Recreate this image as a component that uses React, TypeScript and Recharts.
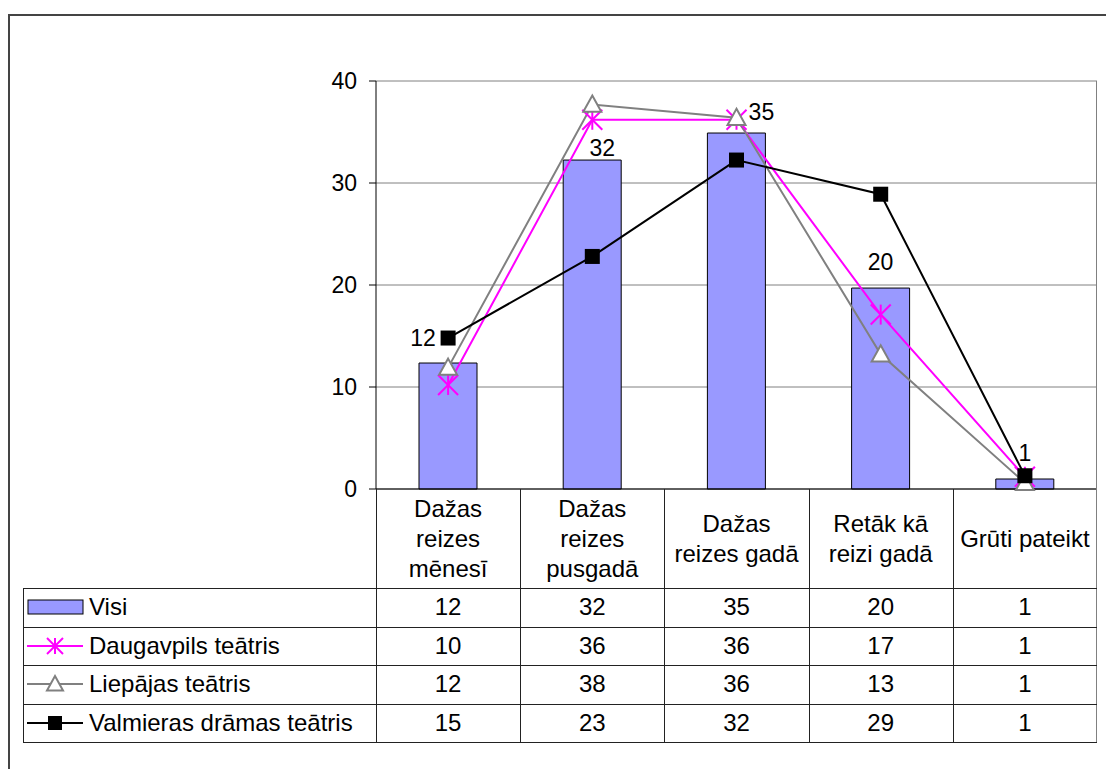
import {
  Bar,
  CartesianGrid,
  ComposedChart,
  LabelList,
  Line,
  XAxis,
  YAxis,
} from "recharts";

const categories = [
  "Dažas\nreizes\nmēnesī",
  "Dažas\nreizes\npusgadā",
  "Dažas\nreizes gadā",
  "Retāk kā\nreizi gadā",
  "Grūti pateikt",
];
const visi = [12.35, 32.25, 34.9, 19.7, 0.98];
const daugavpils = [10.2, 36.2, 36.2, 17.1, 1.2];
const liepaja = [11.9, 37.7, 36.4, 13.2, 0.6];
const valmiera = [14.8, 22.8, 32.25, 28.9, 1.3];
const seriesNames = [
  "Visi",
  "Daugavpils teātris",
  "Liepājas teātris",
  "Valmieras drāmas teātris",
];
const yTicks = [0, 10, 20, 30, 40];

const data = categories.map((category, i) => ({
  category,
  visi: visi[i],
  daugavpils: daugavpils[i],
  liepaja: liepaja[i],
  valmiera: valmiera[i],
}));

const FONT = '"Liberation Sans", Arial, sans-serif';
const W = 1106;
const H = 769;
const PLOT = { left: 376, top: 81, right: 1097, bottom: 489 };
const HEADER_BOTTOM = 588;
const ROW_H = 38.5;
const LEGEND_LEFT = 23;
const LINE_COLOR = "#222";
const TABLE_FONT = 24;

// hand-placed data labels (dx, dy) like in the original
const LABEL_NUDGE = [
  [-25, 1],
  [10, 14],
  [25, 5],
  [0, 0],
  [0, 0],
];

function StarDot({ cx, cy, size = 10 }: any) {
  if (cx == null || cy == null) return null;
  const s = size;
  return (
    <g stroke="#FF00FF" strokeWidth={2}>
      <line x1={cx - s} y1={cy - s} x2={cx + s} y2={cy + s} />
      <line x1={cx - s} y1={cy + s} x2={cx + s} y2={cy - s} />
      <line x1={cx} y1={cy - s} x2={cx} y2={cy + s} />
    </g>
  );
}

function TriangleDot({ cx, cy, size = 9 }: any) {
  if (cx == null || cy == null) return null;
  const s = size;
  return (
    <polygon
      points={`${cx},${cy - s} ${cx + s},${cy + s * 0.8} ${cx - s},${cy + s * 0.8}`}
      fill="#fff"
      stroke="#808080"
      strokeWidth={2}
    />
  );
}

function SquareDot({ cx, cy, size = 7.5 }: any) {
  if (cx == null || cy == null) return null;
  return (
    <rect x={cx - size} y={cy - size} width={size * 2} height={size * 2} fill="#000" />
  );
}

function CategoryTick({ x, y, payload }: any) {
  const lines = String(payload.value).split("\n");
  const mid = y + (HEADER_BOTTOM - PLOT.bottom) / 2;
  const step = 30;
  const start = mid - ((lines.length - 1) * step) / 2;
  return (
    <g>
      {lines.map((line, i) => (
        <text
          key={i}
          x={x}
          y={start + i * step}
          textAnchor="middle"
          dominantBaseline="central"
          fontSize={TABLE_FONT}
          fontFamily={FONT}
          fill="#000"
        >
          {line}
        </text>
      ))}
    </g>
  );
}

function BarLabel({ x, y, width, value, index }: any) {
  const [dx, dy] = LABEL_NUDGE[index] || [0, 0];
  return (
    <text
      x={x + width / 2 + dx}
      y={y - 26 + dy}
      textAnchor="middle"
      dominantBaseline="central"
      fontSize={23}
      fontFamily={FONT}
      fill="#000"
    >
      {Math.round(Number(value))}
    </text>
  );
}

function LegendKey({ kind }: { kind: number }) {
  return (
    <svg width={60} height={20} style={{ display: "block" }}>
      {kind === 0 ? (
        <rect x={1} y={3} width={55} height={14} fill="#9999FF" stroke="#000" />
      ) : (
        <>
          <line
            x1={0}
            y1={10}
            x2={56}
            y2={10}
            stroke={kind === 1 ? "#FF00FF" : kind === 2 ? "#808080" : "#000"}
            strokeWidth={2}
          />
          {kind === 1 && <StarDot cx={28} cy={10} size={8} />}
          {kind === 2 && <TriangleDot cx={28} cy={10} size={8} />}
          {kind === 3 && <SquareDot cx={28} cy={10} size={7} />}
        </>
      )}
    </svg>
  );
}

export default function App() {
  const band = (PLOT.right - PLOT.left) / categories.length;
  const edges = categories.map((_, i) => PLOT.left + band * i).concat(PLOT.right);
  const rows = [visi, daugavpils, liepaja, valmiera];

  return (
    <div style={{ position: "relative", width: W, height: H, fontFamily: FONT, background: "#fff" }}>
      <style>{`body{margin:0;overflow:hidden}`}</style>

      {/* outer frame */}
      <div
        style={{
          position: "absolute",
          left: 8,
          top: 14,
          width: W - 8,
          height: H - 14,
          borderTop: "2px solid #444",
          borderLeft: "2px solid #444",
        }}
      />

      <div style={{ position: "absolute", left: 0, top: 0 }}>
        <ComposedChart
          width={W}
          height={H}
          data={data}
          margin={{ top: PLOT.top, right: W - PLOT.right, bottom: H - HEADER_BOTTOM, left: 0 }}
        >
          <CartesianGrid horizontal vertical={false} stroke="#808080" />
          <XAxis
            dataKey="category"
            interval={0}
            height={HEADER_BOTTOM - PLOT.bottom}
            axisLine={{ stroke: "#000" }}
            tickLine={false}
            tickSize={0}
            tickMargin={0}
            tick={<CategoryTick />}
          />
          <YAxis
            width={PLOT.left}
            domain={[0, 40]}
            ticks={yTicks}
            interval={0}
            axisLine={{ stroke: "#000" }}
            tickLine={{ stroke: "#000" }}
            tickSize={7}
            tickMargin={12}
            tick={{ fontSize: 23, fill: "#000", fontFamily: FONT }}
          />
          <Bar
            dataKey="visi"
            fill="#9999FF"
            stroke="#000"
            strokeWidth={1}
            barSize={58}
            isAnimationActive={false}
          >
            <LabelList dataKey="visi" content={<BarLabel />} />
          </Bar>
          <Line
            dataKey="daugavpils"
            stroke="#FF00FF"
            strokeWidth={2}
            dot={(p: any) => <StarDot key={p.index} cx={p.cx} cy={p.cy} />}
            isAnimationActive={false}
          />
          <Line
            dataKey="liepaja"
            stroke="#808080"
            strokeWidth={2}
            dot={(p: any) => <TriangleDot key={p.index} cx={p.cx} cy={p.cy} />}
            isAnimationActive={false}
          />
          <Line
            dataKey="valmiera"
            stroke="#000"
            strokeWidth={2}
            dot={(p: any) => <SquareDot key={p.index} cx={p.cx} cy={p.cy} />}
            isAnimationActive={false}
          />
        </ComposedChart>
      </div>

      {/* plot area right border */}
      <div
        style={{
          position: "absolute",
          left: PLOT.right - 1,
          top: PLOT.top,
          width: 1,
          height: PLOT.bottom - PLOT.top,
          background: "#808080",
        }}
      />

      {/* data table grid: vertical lines */}
      {edges.map((x, i) => (
        <div
          key={"v" + i}
          style={{
            position: "absolute",
            left: Math.round(x) - (i === edges.length - 1 ? 1 : 0),
            top: PLOT.bottom,
            width: 1,
            height: HEADER_BOTTOM + ROW_H * 4 - PLOT.bottom,
            background: i === edges.length - 1 ? "#808080" : LINE_COLOR,
          }}
        />
      ))}
      <div
        style={{
          position: "absolute",
          left: LEGEND_LEFT,
          top: HEADER_BOTTOM,
          width: 1,
          height: ROW_H * 4,
          background: LINE_COLOR,
        }}
      />
      {[0, 1, 2, 3, 4].map((r) => (
        <div
          key={"h" + r}
          style={{
            position: "absolute",
            left: LEGEND_LEFT,
            top: Math.round(HEADER_BOTTOM + ROW_H * r),
            width: PLOT.right - LEGEND_LEFT,
            height: 1,
            background: LINE_COLOR,
          }}
        />
      ))}

      {/* data table rows */}
      {rows.map((values, r) => (
        <div key={"r" + r}>
          <div
            style={{
              position: "absolute",
              left: LEGEND_LEFT + 4,
              top: HEADER_BOTTOM + ROW_H * r,
              height: ROW_H,
              display: "flex",
              alignItems: "center",
              fontSize: TABLE_FONT,
              whiteSpace: "nowrap",
            }}
          >
            <LegendKey kind={r} />
            <span style={{ marginLeft: 2 }}>{seriesNames[r]}</span>
          </div>
          {values.map((v, c) => (
            <div
              key={c}
              style={{
                position: "absolute",
                left: edges[c],
                top: HEADER_BOTTOM + ROW_H * r,
                width: edges[c + 1] - edges[c],
                height: ROW_H,
                display: "flex",
                alignItems: "center",
                justifyContent: "center",
                fontSize: TABLE_FONT,
              }}
            >
              {Math.round(v)}
            </div>
          ))}
        </div>
      ))}
    </div>
  );
}
